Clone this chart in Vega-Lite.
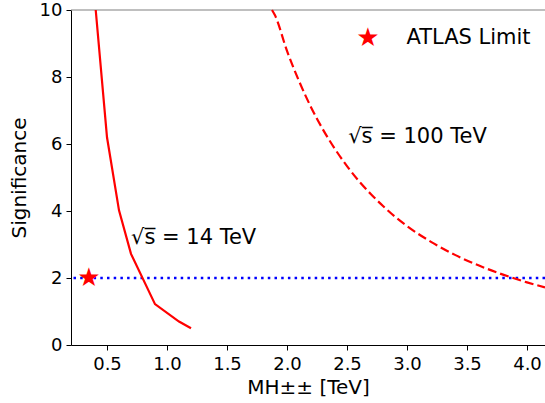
{
  "$schema": "https://vega.github.io/schema/vega-lite/v6.json",
  "width": 474,
  "height": 335,
  "autosize": {"type": "none"},
  "padding": {"left": 71, "top": 10, "right": 0, "bottom": 58},
  "config": {
    "view": {"stroke": null},
    "axis": {
      "domainColor": "black", "tickColor": "black", "tickSize": 5,
      "labelFont": "DejaVu Sans", "labelFontSize": 18, "labelColor": "black",
      "titleFont": "DejaVu Sans", "titleFontSize": 20, "titleFontWeight": "normal", "titleColor": "black",
      "grid": false
    }
  },
  "datasets": {
    "tev14": [
      {"m": 0.406, "sig": 10.0}, {"m": 0.5, "sig": 6.2}, {"m": 0.6, "sig": 4.02}, {"m": 0.7, "sig": 2.72},
      {"m": 0.9, "sig": 1.22}, {"m": 1.1, "sig": 0.7}, {"m": 1.2, "sig": 0.5}
    ],
    "tev100": [
      {"m": 1.875, "sig": 10.0}, {"m": 1.9, "sig": 9.84}, {"m": 2.0, "sig": 8.78}, {"m": 2.1, "sig": 7.88},
      {"m": 2.2, "sig": 7.10}, {"m": 2.3, "sig": 6.43}, {"m": 2.4, "sig": 5.85}, {"m": 2.5, "sig": 5.34},
      {"m": 2.6, "sig": 4.89}, {"m": 2.7, "sig": 4.50}, {"m": 2.8, "sig": 4.15}, {"m": 2.9, "sig": 3.83},
      {"m": 3.0, "sig": 3.55}, {"m": 3.2, "sig": 3.08}, {"m": 3.4, "sig": 2.69}, {"m": 3.6, "sig": 2.37},
      {"m": 3.8, "sig": 2.10}, {"m": 4.0, "sig": 1.87}, {"m": 4.15, "sig": 1.72}
    ],
    "stars": [
      {"m": 0.35, "sig": 2, "glyph": "★"},
      {"m": 2.675, "sig": 9.15, "glyph": "★"}
    ],
    "notes": [
      {"m": 0.7, "sig": 3.2, "note": "√s̅ = 14 TeV"},
      {"m": 2.51, "sig": 6.22, "note": "√s̅ = 100 TeV"},
      {"m": 2.995, "sig": 9.15, "note": "ATLAS Limit"}
    ],
    "spine": [{"sig": 10}],
    "limit": [{"sig": 2}]
  },
  "layer": [
    {"data": {"name": "spine"}, "mark": {"type": "rule", "color": "#808080", "strokeWidth": 1.2},
      "encoding": {"y": {"field": "sig", "type": "quantitative", "scale": {"domain": [0, 10], "nice": false},
          "axis": {"values": [0, 2, 4, 6, 8, 10], "title": "Significance", "labelPadding": 4, "titlePadding": 10}}}},
    {"data": {"name": "limit"}, "mark": {"type": "rule", "color": "blue", "strokeWidth": 2.5, "strokeDash": [2.5, 4.2]},
      "encoding": {"y": {"field": "sig", "type": "quantitative"}}},
    {"data": {"name": "tev14"}, "mark": {"type": "line", "color": "red", "strokeWidth": 2.2},
      "encoding": {
        "x": {"field": "m", "type": "quantitative", "scale": {"domain": [0.2, 4.15], "nice": false, "zero": false},
          "axis": {"values": [0.5, 1.0, 1.5, 2.0, 2.5, 3.0, 3.5, 4.0], "format": ".1f", "title": "MH±± [TeV]", "labelPadding": 5, "titlePadding": 4}},
        "y": {"field": "sig", "type": "quantitative"}}},
    {"data": {"name": "tev100"}, "mark": {"type": "line", "color": "red", "strokeWidth": 2.2, "strokeDash": [9, 4], "interpolate": "monotone"},
      "encoding": {"x": {"field": "m", "type": "quantitative"}, "y": {"field": "sig", "type": "quantitative"}}},
    {"data": {"name": "stars"}, "mark": {"type": "text", "align": "center", "baseline": "middle", "fontSize": 26, "font": "DejaVu Sans", "color": "red"},
      "encoding": {"x": {"field": "m", "type": "quantitative"}, "y": {"field": "sig", "type": "quantitative"}, "text": {"field": "glyph", "type": "nominal"}}},
    {"data": {"name": "notes"}, "mark": {"type": "text", "align": "left", "baseline": "middle", "fontSize": 21, "font": "DejaVu Sans", "color": "black"},
      "encoding": {"x": {"field": "m", "type": "quantitative"}, "y": {"field": "sig", "type": "quantitative"}, "text": {"field": "note", "type": "nominal"}}}
  ]
}
